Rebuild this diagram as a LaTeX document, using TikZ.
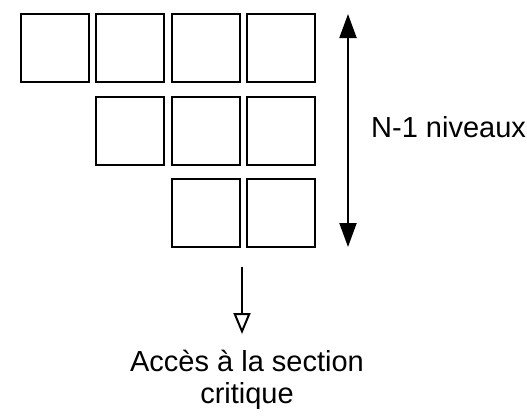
\documentclass[tikz,border=0pt]{standalone}
\usepackage{fontspec}
\setmainfont{Liberation Sans}
\usetikzlibrary{arrows.meta}
\begin{document}
\begin{tikzpicture}[x=1pt,y=-1pt,
  cell/.style={draw=black, line width=2pt, minimum size=68pt, inner sep=0pt, fill=white},
  lbl/.style={inner sep=0pt, font=\fontsize{29}{32}\selectfont},
  dbl/.style={line width=2pt, {Triangle[length=24pt,width=17pt]}-{Triangle[length=24pt,width=17pt]}},
  outarrow/.style={line width=2pt, -{Triangle[open,length=21pt,width=17pt,fill=white]}}]
\useasboundingbox (0,0) rectangle (527,416);
% row 1
\node[cell] (c11) at (55,48) {};
\node[cell] (c12) at (130,48) {};
\node[cell] (c13) at (206,48) {};
\node[cell] (c14) at (281,48) {};
% row 2
\node[cell] (c22) at (130,131) {};
\node[cell] (c23) at (206,131) {};
\node[cell] (c24) at (281,131) {};
% row 3
\node[cell] (c33) at (206,213) {};
\node[cell] (c34) at (281,213) {};
% level arrow
\coordinate (ltop) at (348,14);
\coordinate (lbot) at (348,247);
\draw[dbl] (ltop) -- (lbot);
\node[lbl, anchor=base west] (niv) at (371,137) {N-1 niveaux};
% exit arrow
\coordinate (etop) at (242,267);
\coordinate (ebot) at (242,334);
\draw[outarrow] (etop) -- (ebot);
\node[lbl, anchor=north, align=center] (acc) at (247,350) {Accès à la section\\critique};
\end{tikzpicture}
\end{document}
